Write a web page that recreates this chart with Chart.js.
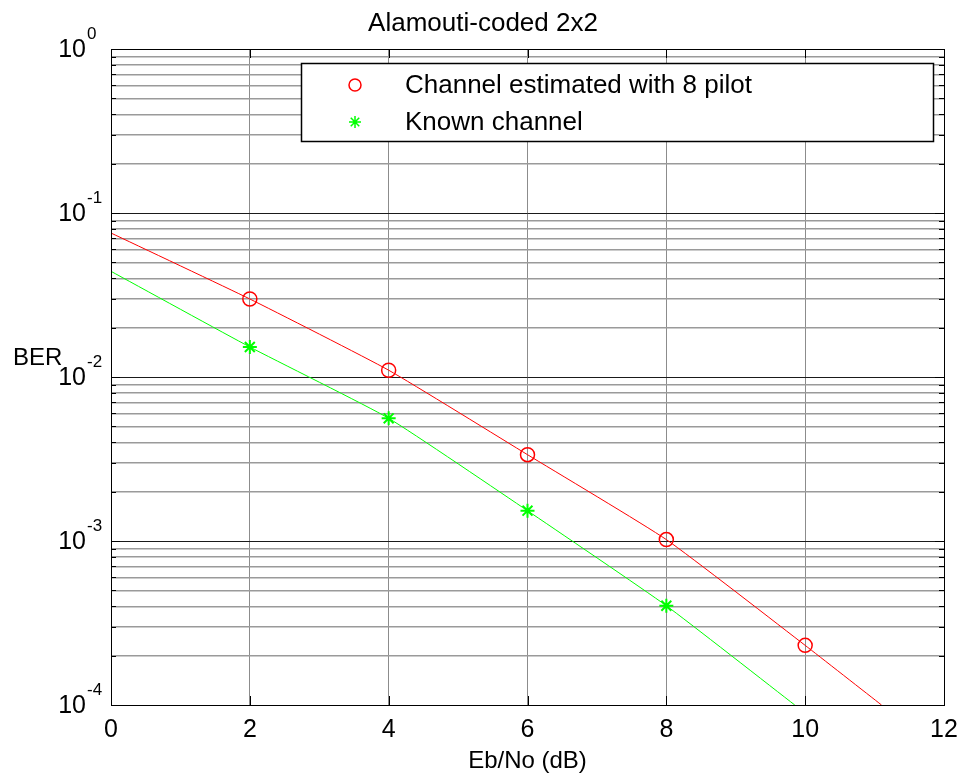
<!DOCTYPE html>
<html lang="en">
<head>
  <meta charset="UTF-8">
  <title>Alamouti-coded 2x2</title>
  <script src="https://cdn.jsdelivr.net/npm/chart.js"></script>
  <style>
    body {
      margin: 0;
      background: #fff;
    }
    canvas {
      display: block;
    }
  </style>
</head>
<body>
  <canvas id="berChart" width="968" height="776"></canvas>

  <script>
    // values
    const ebno = [2, 4, 6, 8, 10];
    const berPilot = [0.0299, 0.0110, 0.00336, 0.00102, 0.000231];
    const berKnown = [0.01524, 0.00560, 0.00153, 0.000403];

    // fitted curves, from x=0 down to where they leave the axes
    const fitPilotX = [0, 2, 4, 6, 8, 10, 11.1];
    const fitPilotY = [0.0755, 0.0299, 0.0110, 0.00336, 0.00102, 0.000231, 0.0001];
    const fitKnownX = [0, 2, 4, 6, 8, 9.85];
    const fitKnownY = [0.0441, 0.01524, 0.00560, 0.00153, 0.000403, 0.0001];

    const xTicks = [0, 2, 4, 6, 8, 10, 12];
    const decades = [-4, -3, -2, -1, 0];

    const FONT = '"Liberation Sans", Arial, sans-serif';
    const RED = '#ff0000';
    const GREEN = '#00ff00';

    function pts(xs, ys) {
      return ys.map((y, i) => ({ x: xs[i], y: y }));
    }

    const isDecade = v => Math.abs(Math.log10(v) - Math.round(Math.log10(v))) < 1e-9;

    const matlabLook = {
      id: 'matlabLook',
      afterDatasetsDraw(chart) {
        const ctx = chart.ctx;
        const a = chart.chartArea;
        const ys = chart.scales.y;
        const xs = chart.scales.x;
        ctx.save();

        // inward tick marks
        ctx.strokeStyle = '#000';
        ctx.lineWidth = 1;
        ctx.beginPath();
        ys.ticks.forEach(t => {
          const py = Math.round(ys.getPixelForValue(t.value)) + 0.5;
          const len = isDecade(t.value) ? 9 : 5;
          ctx.moveTo(a.left, py); ctx.lineTo(a.left + len, py);
          ctx.moveTo(a.right, py); ctx.lineTo(a.right - len, py);
        });
        xTicks.forEach(v => {
          const px = Math.round(xs.getPixelForValue(v)) + 0.5;
          ctx.moveTo(px, a.bottom); ctx.lineTo(px, a.bottom - 9);
          ctx.moveTo(px, a.top); ctx.lineTo(px, a.top + 9);
        });
        ctx.stroke();

        // axes box
        ctx.strokeStyle = '#000';
        ctx.strokeRect(Math.round(a.left) + 0.5, Math.round(a.top) + 0.5,
          Math.round(a.right - a.left), Math.round(a.bottom - a.top));

        // legend
        const lx = 301, ly = 63, lw = 632, lh = 78;
        ctx.fillStyle = '#fff';
        ctx.fillRect(lx, ly, lw, lh);
        ctx.lineWidth = 1.5;
        ctx.strokeRect(lx + 0.5, ly + 0.5, lw, lh);
        [0, 1].forEach(i => {
          const ds = chart.data.datasets[i];
          const cy = ly + 22 + i * 37;
          ctx.strokeStyle = ds.borderColor;
          ctx.fillStyle = 'rgba(0,0,0,0)';
          Chart.helpers.drawPoint(ctx, {
            pointStyle: ds.pointStyle,
            radius: 6,
            borderWidth: 1,
            rotation: 0
          }, 355, cy);
          ctx.fillStyle = '#000';
          ctx.font = '26px ' + FONT;
          ctx.textAlign = 'left';
          ctx.textBaseline = 'middle';
          ctx.fillText(ds.label, 405, cy + 1);
        });

        // y tick labels as 10^n
        ctx.fillStyle = '#000';
        decades.forEach(e => {
          const py = ys.getPixelForValue(Math.pow(10, e));
          ctx.font = '25px ' + FONT;
          ctx.textAlign = 'right';
          ctx.textBaseline = 'middle';
          ctx.fillText('10', 86, py + 1);
          ctx.font = '17px ' + FONT;
          ctx.textAlign = 'left';
          ctx.fillText(String(e), 87, py - 15);
        });

        // y axis label, horizontal
        ctx.font = '24px ' + FONT;
        ctx.textAlign = 'left';
        ctx.textBaseline = 'alphabetic';
        ctx.fillText('BER', 13, 365);

        // title
        ctx.font = '26px ' + FONT;
        ctx.textAlign = 'center';
        ctx.fillText('Alamouti-coded 2x2', 483, 31);

        ctx.restore();
      }
    };

    const ctx = document.getElementById('berChart').getContext('2d');
    const chart = new Chart(ctx, {
      type: 'scatter',
      data: {
        datasets: [{
          label: 'Channel estimated with 8 pilot',
          data: pts(ebno, berPilot),
          pointStyle: 'circle',
          pointRadius: 7,
          pointBorderWidth: 1.5,
          borderColor: RED,
          backgroundColor: 'rgba(0,0,0,0)',
          showLine: false
        }, {
          label: 'Known channel',
          data: pts(ebno, berKnown),
          pointStyle: 'star',
          pointRadius: 7,
          pointBorderWidth: 2,
          borderColor: GREEN,
          backgroundColor: 'rgba(0,0,0,0)',
          showLine: false
        }, {
          label: 'fit pilot',
          data: pts(fitPilotX, fitPilotY),
          showLine: true,
          pointRadius: 0,
          borderColor: RED,
          borderWidth: 1,
          tension: 0.15
        }, {
          label: 'fit known',
          data: pts(fitKnownX, fitKnownY),
          showLine: true,
          pointRadius: 0,
          borderColor: GREEN,
          borderWidth: 1,
          tension: 0.15
        }]
      },
      options: {
        responsive: false,
        animation: false,
        layout: {
          padding: { top: 49, right: 24, left: 0, bottom: 0 }
        },
        plugins: {
          legend: { display: false },
          title: { display: false },
          tooltip: { enabled: false }
        },
        scales: {
          x: {
            type: 'linear',
            min: 0,
            max: 12,
            afterBuildTicks: scale => {
              scale.ticks = xTicks.map(v => ({ value: v }));
            },
            afterFit: scale => { scale.height = 71; },
            grid: { color: '#8c8c8c', lineWidth: 1, drawTicks: false },
            border: { display: false },
            ticks: {
              color: '#000',
              font: { family: FONT, size: 25 },
              padding: 10,
              maxRotation: 0
            },
            title: {
              display: true,
              text: 'Eb/No (dB)',
              color: '#000',
              font: { family: FONT, size: 24 },
              padding: { top: 0, bottom: 0 }
            }
          },
          y: {
            type: 'logarithmic',
            min: 1e-4,
            max: 1,
            afterBuildTicks: scale => {
              const t = [];
              for (let e = -4; e < 0; e++) {
                for (let m = 1; m < 10; m++) t.push({ value: m * Math.pow(10, e) });
              }
              t.push({ value: 1 });
              scale.ticks = t;
            },
            afterFit: scale => { scale.width = 111; },
            grid: {
              color: c => isDecade(c.tick.value) ? '#1a1a1a' : '#9a9a9a',
              lineWidth: c => isDecade(c.tick.value) ? 1 : 1.5,
              drawTicks: false
            },
            border: { display: false },
            ticks: {
              callback: () => '',
              padding: 0
            }
          }
        }
      },
      plugins: [matlabLook]
    });
  </script>
</body>
</html>
